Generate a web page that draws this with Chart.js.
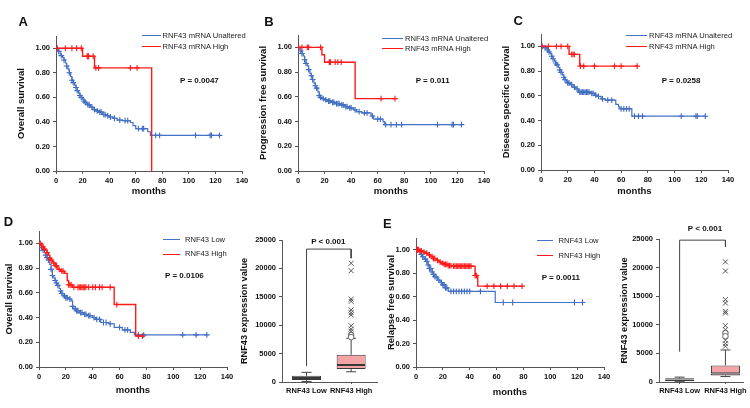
<!DOCTYPE html>
<html><head><meta charset="utf-8">
<script src="https://cdn.jsdelivr.net/npm/chart.js@4/dist/chart.umd.min.js"></script>
<style>
html,body{margin:0;padding:0;background:#fff;}
body{width:750px;height:408px;overflow:hidden;position:relative;font-family:"Liberation Sans",Arial,sans-serif;}
canvas{position:absolute;}
.t{position:absolute;white-space:nowrap;line-height:1;color:#111;}
.lg{position:absolute;height:0;border-top:1.3px solid;}
</style></head><body>
<script>
// ---------------- DATA ----------------
const kmXTicks = [0,20,40,60,80,100,120,140];
const kmYTicks = [0,0.2,0.4,0.6,0.8,1.0];
const boxYTicks = [0,5000,10000,15000,20000,25000];
const boxCategories = ['RNF43 Low','RNF43 High'];

// Panel A – Overall survival (TCGA)
const A_unalt_t = [0,1,2,3,4,5,6,7,8,9,10,11,12,13,14,15,16,17,18,19,20,21,22,23,24,26,28,30,32,35,38,40,43,46,50,56,58,60,69,71,123];
const A_unalt_s = [1,0.99,0.975,0.955,0.94,0.925,0.905,0.88,0.855,0.83,0.80,0.77,0.74,0.72,0.70,0.68,0.655,0.635,0.615,0.60,0.585,0.57,0.56,0.55,0.54,0.52,0.50,0.49,0.48,0.46,0.45,0.44,0.43,0.415,0.41,0.395,0.37,0.345,0.32,0.29,0.29];
const A_unalt_cens = [2,4,6,8,10,12,13,15,16,18,19,21,22,24,25,27,29,31,33,34,36,37,39,41,44,48,52,54,62,65,66,75,78,105,116,117,123];
const A_high_t = [0,20,29,72];
const A_high_s = [1,0.935,0.84,0];
const A_high_cens = [1,7,12,15.5,19,23.5,24,24.5,28,30,32,56,61];

// Panel B – Progression free survival
const B_unalt_t = [0,1,2,3,4,5,6,7,8,9,10,11,12,13,14,15,16,17,18,20,22,25,28,32,35,38,42,44,48,55,57,64,65,123];
const B_unalt_s = [1,0.985,0.97,0.95,0.93,0.90,0.87,0.85,0.82,0.79,0.77,0.74,0.71,0.69,0.67,0.64,0.61,0.595,0.585,0.575,0.565,0.555,0.545,0.535,0.52,0.51,0.495,0.48,0.47,0.445,0.42,0.40,0.375,0.375];
const B_unalt_cens = [2,3,5,6,8,10,11,13,14,16,17,19,21,23,24,26,27,29,30,31,33,34,36,37,39,40,43,46,50,52,56,60,62,66,70,74,78,105,116,117,123];
const B_high_t = [0,18,20,43,73];
const B_high_s = [1,0.94,0.88,0.585,0.585];
const B_high_cens = [0.5,3,7,8,17,23.5,24,24.5,28,30,32.5,62.5,73];

// Panel C – Disease specific survival
const C_unalt_t = [0,2,4,5,6,7,8,9,10,11,12,13,14,15,16,17,18,19,20,22,24,26,28,37,40,42,45,48,56,58,59,68,123];
const C_unalt_s = [1,0.99,0.98,0.97,0.955,0.94,0.92,0.90,0.88,0.865,0.85,0.83,0.81,0.79,0.77,0.75,0.73,0.715,0.705,0.69,0.67,0.655,0.63,0.62,0.605,0.595,0.575,0.565,0.53,0.51,0.495,0.435,0.435];
const C_unalt_cens = [1,3,5,6,8,9,11,12,14,15,17,18,20,21,23,25,27,29,30,31,32,33,34,35,36,38,39,41,43,46,50,53,60,62,64,66,70,73,76,105,116,117,123];
const C_high_t = [0,21,29,72];
const C_high_s = [1,0.935,0.84,0.84];
const C_high_cens = [0.5,5.5,11.5,15,20,23,24,25,29.5,32,40,55,60,72];

// Panel D – Overall survival (Low vs High)
const D_low_t = [0,1,2,3,4,5,6,7,8,9,10,11,12,13,14,15,16,17,18,20,22,24,25,26,28,30,33,36,40,42,46,52,56,62,68,71,125];
const D_low_s = [1,0.985,0.965,0.945,0.925,0.905,0.885,0.865,0.83,0.79,0.74,0.72,0.70,0.68,0.66,0.635,0.615,0.595,0.575,0.56,0.55,0.535,0.49,0.47,0.455,0.44,0.425,0.415,0.40,0.385,0.36,0.35,0.32,0.30,0.28,0.26,0.26];
const D_low_cens = [2,3,5,6,7,9,10,12,13,14,16,17,19,20,21,23,25,27,28,29,31,32,34,35,37,38,41,43,45,48,50,53,60,64,66,74,78,107,117,125];
const D_high_t = [0,2,3,4,5,6,7,8,9,10,11,12,14,16,19,21,22,25,56,72,77];
const D_high_s = [1,0.985,0.97,0.955,0.945,0.925,0.905,0.88,0.865,0.85,0.84,0.82,0.79,0.775,0.757,0.70,0.665,0.645,0.505,0.25,0.25];
const D_high_cens = [1,3,4,6,8,9,11,12,13,15,17,18,22,23,24,26,29,30,31,32,33,34,35,37,40,42,45,47,53,58,74,77];

// Panel E – Relapse free survival
const E_low_t = [0,2,3,5,6,8,9,10,12,13,14,16,18,20,22,24,59,124];
const E_low_s = [1,0.985,0.96,0.94,0.92,0.90,0.87,0.84,0.81,0.79,0.77,0.74,0.72,0.70,0.675,0.645,0.55,0.55];
const E_low_cens = [1,4,5,7,8,9,10,11,12,13,14,15,17,19,20,21,22,23,26,28,30,32,34,36,38,40,48,65,72,118,124];
const E_high_t = [0,3,5,7,9,11,13,15,17,19,21,24,27,44,46,79];
const E_high_s = [1,0.99,0.98,0.97,0.955,0.94,0.925,0.91,0.895,0.885,0.875,0.865,0.86,0.78,0.69,0.69];
const E_high_cens = [0.5,1,2,3,4,6,8,10,12,13,14,16,18,20,21,22,23,24,25,26,28,29,30,31,32,33,34,35,36,37,38,39,40,41,44,45,53,58,63,68,73,79];

// Box plots (RNF43 expression value)
const D_box_min = [100,1800];
const D_box_q1  = [350,2300];
const D_box_med = [700,3000];
const D_box_q3  = [1100,4800];
const D_box_max = [1700,7700];
const D_out_cross = [20900,19600,14600,14200,12700,12200,11800,9900,9300,8900];
const D_out_circle = [8300,7900];
const D_bracket = [2800,23400,21800];

const E_box_min = [50,950];
const E_box_q1  = [150,1150];
const E_box_med = [450,1550];
const E_box_q3  = [650,2900];
const E_box_max = [850,5600];
const E_out_cross = [21000,19400,14400,13800,12350,12050,9850,9150,7300,6700,6250];
const E_out_circle = [8570,8000];
const E_bracket = [5300,24800,23600];

// ---------------- STYLE / LAYOUT ----------------
const FONT = '"Liberation Sans", Arial, sans-serif';
const BLUE = '#4472C4', BLUE_M = '#3d68c0', RED = '#FF1A1A';
const AX = '#555555', TXT = '#111111';

function survAt(t, s, x){ let v = s[0]; for (let i=0;i<t.length;i++){ if (t[i] <= x) v = s[i]; } return v; }

function addCanvas(cl, ct, cw, ch){
  const c = document.createElement('canvas');
  c.width = cw; c.height = ch;
  c.style.left = cl+'px'; c.style.top = ct+'px';
  c.style.width = cw+'px'; c.style.height = ch+'px';
  document.body.appendChild(c);
  return c;
}
function txt(s, x, y, size, bold, center, color){
  const d = document.createElement('div');
  d.className = 't'; d.textContent = s;
  d.style.fontSize = size+'px'; d.style.fontWeight = bold ? 'bold' : 'normal';
  d.style.left = x+'px'; d.style.top = y+'px';
  d.style.color = color || TXT;
  d.style.transform = center ? 'translate(-50%,-50%)' : 'translate(0,-50%)';
  document.body.appendChild(d);
}
function legLine(x1, x2, y, color){
  const d = document.createElement('div');
  d.className = 'lg'; d.style.left = x1+'px'; d.style.top = (y-0.6)+'px';
  d.style.width = (x2-x1)+'px'; d.style.borderColor = color;
  document.body.appendChild(d);
}

function kmChart(g, groups, yTitle){
  const lh = 9.5*1.2;
  const cl = Math.round(g.tx - lh/2);
  const ct = Math.round(g.T - 8);
  const L = Math.round(g.L), R = Math.round(g.R), T = Math.round(g.T), B = Math.round(g.B);
  const W = L - cl;
  const bottom = Math.round(g.my + lh/2);
  const H = bottom - B;
  const cw = R + 12 - cl, ch = bottom - ct;
  const pt = T - ct, pr = cw - (R - cl);
  const c = addCanvas(cl, ct, cw, ch);
  const datasets = [];
  groups.forEach(gr => {
    datasets.push({data: gr.t.map((x,i)=>({x, y: gr.s[i]})), showLine:true, stepped:true,
      borderColor: gr.color, borderWidth: gr.lw, pointRadius:0, fill:false, order: gr.order});
    datasets.push({data: gr.cens.map(x=>({x, y: survAt(gr.t, gr.s, x)})), showLine:false,
      pointStyle:'cross', pointRadius:2.9, pointBorderColor: gr.mark, pointBorderWidth:1.1, order: gr.order});
  });
  const tickFont = {family: FONT, size: 7.5, weight: 'bold'};
  const titleFont = {family: FONT, size: 9.5, weight: 'bold'};
  new Chart(c, {
    type: 'scatter',
    data: {datasets},
    options: {
      responsive:false, animation:false, events:[],
      layout:{padding:{left:0, top:pt, right:pr, bottom:0}},
      plugins:{legend:{display:false}, tooltip:{enabled:false}},
      scales:{
        x:{type:'linear', min:0, max:140,
          afterBuildTicks: s => { s.ticks = kmXTicks.map(v=>({value:v})); },
          afterFit: s => { s.height = H; },
          ticks:{font: tickFont, color: TXT, padding: 2, maxRotation:0, autoSkip:false, callback: v => String(v)},
          grid:{drawOnChartArea:false, drawTicks:true, tickLength:3, color: AX},
          border:{display:true, color: AX, width:1},
          title:{display:true, text:'months', font: titleFont, color: TXT, padding:0}},
        y:{type:'linear', min:0, max:1.1,
          afterBuildTicks: s => { s.ticks = kmYTicks.map(v=>({value:v})); },
          afterFit: s => { s.width = W; },
          ticks:{font: tickFont, color: TXT, padding: 3, autoSkip:false, callback: v => Number(v).toFixed(2)},
          grid:{drawOnChartArea:false, drawTicks:true, tickLength:3, color: AX},
          border:{display:true, color: AX, width:1},
          title:{display:true, text: yTitle, font: titleFont, color: TXT, padding:0}}
      }
    }
  });
}

function boxChart(g, st, outCross, outCircle, bracket){
  const lh = 9.2*1.2;
  const cl = Math.round(g.tx - lh/2);
  const ct = Math.round(g.T - 8);
  const L = Math.round(g.L), R = Math.round(g.R), T = Math.round(g.T), B = Math.round(g.B);
  const W = L - cl, H = 16;
  const cw = Math.min(750 - cl, R + 10 - cl), ch = B + H - ct;
  const pt = T - ct, pr = cw - (R - cl);
  const c = addCanvas(cl, ct, cw, ch);
  const fills = ['#a6a6a6', '#f4a4a4'];
  const datasets = [];
  datasets.push({type:'bar', data: boxCategories.map((n,i)=>({x:i+1, y:[st.q1[i], st.med[i]]})),
    backgroundColor: fills, borderColor:'#3a3a3a', borderWidth:1, borderSkipped:false, grouped:false, maxBarThickness:29, order:1});
  datasets.push({type:'bar', data: boxCategories.map((n,i)=>({x:i+1, y:[st.med[i], st.q3[i]]})),
    backgroundColor: fills, borderColor:'#3a3a3a', borderWidth:1, borderSkipped:false, grouped:false, maxBarThickness:29, order:1});
  boxCategories.forEach((n,i) => {
    datasets.push({type:'line', data:[{x:i+1, y:st.q3[i]},{x:i+1, y:st.max[i]}], borderColor:'#444', borderWidth:1,
      pointStyle:'line', pointRadius:[0,5], pointBorderColor:'#444', pointBorderWidth:1, order:2});
    datasets.push({type:'line', data:[{x:i+1, y:st.min[i]},{x:i+1, y:st.q1[i]}], borderColor:'#444', borderWidth:1,
      pointStyle:'line', pointRadius:[5,0], pointBorderColor:'#444', pointBorderWidth:1, order:2});
  });
  datasets.push({type:'line', data:[{x:1,y:bracket[0]},{x:1,y:bracket[1]},{x:2,y:bracket[1]},{x:2,y:bracket[2]}],
    borderColor:'#444', borderWidth:1, pointRadius:0, order:2});
  datasets.push({type:'scatter', data: outCross.map(v=>({x:2, y:v})), pointStyle:'crossRot', pointRadius:3.5,
    pointBorderColor:'#555', pointBorderWidth:1, showLine:false, order:0});
  datasets.push({type:'scatter', data: outCircle.map(v=>({x:2, y:v})), pointStyle:'circle', pointRadius:2.8,
    pointBackgroundColor:'#fff', pointBorderColor:'#666', pointBorderWidth:1, showLine:false, order:0});
  const tickFont = {family: FONT, size: 7.5, weight: 'bold'};
  new Chart(c, {
    type:'bar',
    data:{datasets},
    options:{
      responsive:false, animation:false, events:[],
      layout:{padding:{left:0, top:pt, right:pr, bottom:0}},
      plugins:{legend:{display:false}, tooltip:{enabled:false}},
      scales:{
        x:{type:'linear', min:g.xmin, max:g.xmax, offset:false,
          afterBuildTicks: s => { s.ticks = boxCategories.map((n,i)=>({value:i+1})); },
          afterFit: s => { s.height = H; },
          ticks:{font: tickFont, color: TXT, padding: 2, maxRotation:0, autoSkip:false, callback: (v,i) => boxCategories[i]},
          grid:{offset:false, drawOnChartArea:false, drawTicks:true, tickLength:2, color: AX},
          border:{display:true, color: AX, width:1}},
        y:{type:'linear', min:0, max:25000,
          afterBuildTicks: s => { s.ticks = boxYTicks.map(v=>({value:v})); },
          afterFit: s => { s.width = W; },
          ticks:{font: tickFont, color: TXT, padding: 3, autoSkip:false, callback: v => String(v)},
          grid:{drawOnChartArea:false, drawTicks:true, tickLength:3, color: AX},
          border:{display:true, color: AX, width:1},
          title:{display:true, text:'RNF43 expression value', font:{family: FONT, size: 9.2, weight:'bold'}, color: TXT, padding:0}}
      }
    }
  });
}

// ---------------- BUILD ----------------
const legTop = ['RNF43 mRNA Unaltered','RNF43 mRNA High'];
const legBot = ['RNF43 Low','RNF43 High'];

kmChart({L:55.7,R:242,T:36.1,B:170.7,tx:21.7,my:191.7}, [
  {t:A_unalt_t, s:A_unalt_s, cens:A_unalt_cens, color:BLUE, mark:BLUE_M, order:2, lw:1.2},
  {t:A_high_t, s:A_high_s, cens:A_high_cens, color:RED, mark:RED, order:1, lw:1.4}], 'Overall survival');
kmChart({L:297.7,R:483.5,T:35.4,B:170.7,tx:263.3,my:191.7}, [
  {t:B_unalt_t, s:B_unalt_s, cens:B_unalt_cens, color:BLUE, mark:BLUE_M, order:2, lw:1.2},
  {t:B_high_t, s:B_high_s, cens:B_high_cens, color:RED, mark:RED, order:1, lw:1.4}], 'Progression free survival');
kmChart({L:541,R:727.7,T:34.4,B:170,tx:506.7,my:191}, [
  {t:C_unalt_t, s:C_unalt_s, cens:C_unalt_cens, color:BLUE, mark:BLUE_M, order:2, lw:1.2},
  {t:C_high_t, s:C_high_s, cens:C_high_cens, color:RED, mark:RED, order:1, lw:1.4}], 'Disease specific survival');
kmChart({L:39.3,R:226.7,T:231,B:366.7,tx:10,my:390}, [
  {t:D_low_t, s:D_low_s, cens:D_low_cens, color:BLUE, mark:BLUE_M, order:2, lw:1.2},
  {t:D_high_t, s:D_high_s, cens:D_high_cens, color:RED, mark:RED, order:1, lw:1.4}], 'Overall survival');
kmChart({L:416,R:604,T:238.3,B:366.7,tx:391.7,my:392.7}, [
  {t:E_low_t, s:E_low_s, cens:E_low_cens, color:BLUE, mark:BLUE_M, order:2, lw:1.2},
  {t:E_high_t, s:E_high_s, cens:E_high_cens, color:RED, mark:RED, order:1, lw:1.4}], 'Relapse free survival');

boxChart({L:281.7,R:376.7,T:240,B:382.3,tx:245,xmin:0.45,xmax:2.58},
  {min:D_box_min,q1:D_box_q1,med:D_box_med,q3:D_box_q3,max:D_box_max}, D_out_cross, D_out_circle, D_bracket);
boxChart({L:659,R:746.7,T:239.3,B:382.3,tx:625,xmin:0.55,xmax:2.4},
  {min:E_box_min,q1:E_box_q1,med:E_box_med,q3:E_box_q3,max:E_box_max}, E_out_cross, E_out_circle, E_bracket);

// panel letters
txt('A', 23.3, 20.7, 13, true, true);
txt('B', 269, 20.7, 13, true, true);
txt('C', 518.3, 20.3, 13, true, true);
txt('D', 8.5, 220.7, 13, true, true);
txt('E', 387.3, 223, 13, true, true);

// legends
[[141.7,160.7,162.5,36,46.7],[381.7,402.7,405,38.7,49],[626,646.7,649,36,46.7]].forEach(p => {
  legLine(p[0], p[1], p[3], BLUE); legLine(p[0], p[1], p[4], RED);
  txt(legTop[0], p[2], p[3], 7.6, false, false, '#222');
  txt(legTop[1], p[2], p[4], 7.6, false, false, '#222');
});
[[163.3,180,185,240,254.3],[536.7,553,558.5,241,256]].forEach(p => {
  legLine(p[0], p[1], p[3], BLUE); legLine(p[0], p[1], p[4], RED);
  txt(legBot[0], p[2], p[3], 7.6, false, false, '#222');
  txt(legBot[1], p[2], p[4], 7.6, false, false, '#222');
});

// p values
txt('P = 0.0047', 180, 81, 8, true, false);
txt('P = 0.011', 415.7, 80.7, 8, true, false);
txt('P = 0.0258', 661.7, 81, 8, true, false);
txt('P = 0.0106', 165, 276, 8, true, false);
txt('P = 0.0011', 541.7, 277.7, 8, true, false);
txt('P < 0.001', 328.3, 241.7, 8, true, true);
txt('P < 0.001', 705, 229.3, 8, true, true);
</script>
</body></html>
